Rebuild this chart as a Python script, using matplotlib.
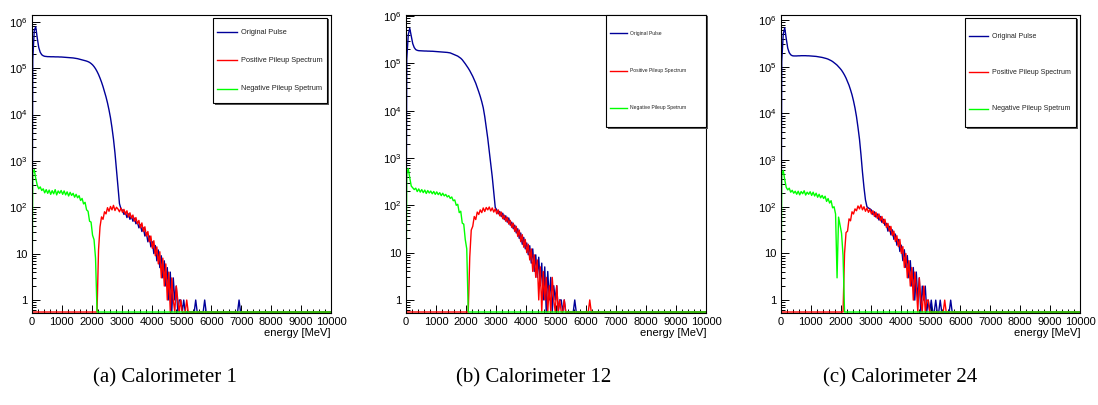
import numpy as np
import matplotlib.pyplot as plt
from matplotlib.patches import Rectangle
from matplotlib.lines import Line2D
from matplotlib.ticker import MultipleLocator, LogLocator, NullFormatter

plt.rcParams['font.family'] = ['Liberation Sans', 'DejaVu Sans']
plt.rcParams['mathtext.fontset'] = 'custom'
plt.rcParams['mathtext.rm'] = 'Liberation Sans'
plt.rcParams['mathtext.it'] = 'Liberation Sans:italic'

# histogram binning: 50 MeV bins from 0 to 10000 MeV; values listed up to ~7000 MeV
edges = np.arange(0, 10001, 50)
centers = 0.5 * (edges[:-1] + edges[1:])

series_labels = ['Original Pulse', 'Positive Pileup Spectrum', 'Negative Pileup Spetrum']
captions = ['(a) Calorimeter 1', '(b) Calorimeter 12', '(c) Calorimeter 24']

# ---- Calorimeter 1 ----
orig_a = [
    1.5e5, 6.5e5, 7.8e5, 4.5e5, 2.8e5, 2.2e5, 1.95e5, 1.85e5, 1.8e5, 1.78e5,
    1.77e5, 1.77e5, 1.76e5, 1.76e5, 1.76e5, 1.75e5, 1.75e5, 1.75e5, 1.74e5, 1.74e5,
    1.73e5, 1.72e5, 1.71e5, 1.70e5, 1.69e5, 1.68e5, 1.67e5, 1.66e5, 1.64e5, 1.62e5,
    1.60e5, 1.57e5, 1.54e5, 1.51e5, 1.48e5, 1.45e5, 1.42e5, 1.38e5, 1.33e5, 1.26e5,
    1.18e5, 1.08e5, 9.7e4, 8.5e4, 7.3e4, 6.1e4, 5.0e4, 4.0e4, 3.1e4, 2.4e4,
    1.78e4, 1.26e4, 8.5e3, 5.2e3, 2.95e3, 1.48e3, 660, 280, 120, 93,
    86, 70, 78, 60, 72, 55, 64, 50, 58, 44,
    48, 36, 42, 30, 36, 24, 28, 18, 24, 14,
    18, 10, 15, 7, 12, 5, 9, 3, 7, 2,
    5, 1, 4, 0, 3, 1, 2, 0, 1, 1,
    0, 1, 0, 0, 0, 0, 0, 0, 0, 1,
    0, 0, 0, 0, 0, 1, 0, 0, 0, 0,
    0, 0, 0, 0, 0, 0, 0, 0, 0, 0,
    0, 0, 0, 0, 0, 0, 0, 0, 1, 0,
]
pos_a = [0] * 40 + [
    0, 0, 0, 0, 12, 38, 62, 55, 80, 72,
    98, 82, 104, 88, 110, 85, 100, 92, 80, 96,
    78, 90, 70, 84, 62, 76, 58, 68, 50, 60,
    44, 52, 36, 46, 30, 38, 24, 30, 18, 24,
    13, 19, 9, 14, 6, 11, 3, 8, 2, 6,
    1, 4, 0, 3, 1, 0, 2, 1, 0, 1,
    0, 0, 0, 1, 0, 0, 0, 0, 0, 0,
]
neg_a = [
    550, 650, 420, 300, 250, 275, 230, 250, 205, 240,
    200, 235, 190, 228, 195, 240, 185, 225, 200, 230,
    190, 225, 185, 215, 175, 210, 180, 200, 165, 190,
    160, 178, 140, 155, 118, 128, 88, 82, 50, 48,
    25, 20, 8,
]

# ---- Calorimeter 12 ----
orig_b = [
    1.2e5, 4.0e5, 5.5e5, 3.8e5, 2.6e5, 2.15e5, 1.95e5, 1.88e5, 1.85e5, 1.84e5,
    1.83e5, 1.83e5, 1.82e5, 1.82e5, 1.81e5, 1.81e5, 1.80e5, 1.80e5, 1.79e5, 1.78e5,
    1.77e5, 1.76e5, 1.75e5, 1.74e5, 1.73e5, 1.72e5, 1.71e5, 1.70e5, 1.68e5, 1.66e5,
    1.61e5, 1.57e5, 1.52e5, 1.47e5, 1.42e5, 1.35e5, 1.28e5, 1.19e5, 1.08e5, 9.8e4,
    8.8e4, 7.9e4, 7.0e4, 6.1e4, 5.3e4, 4.5e4, 3.8e4, 3.1e4, 2.5e4, 2.0e4,
    1.55e4, 1.15e4, 7.5e3, 4.5e3, 2.6e3, 1.4e3, 750, 400, 190, 90,
    80, 66, 74, 58, 68, 50, 60, 44, 54, 38,
    44, 32, 38, 26, 32, 20, 26, 15, 21, 12,
    16, 9, 14, 6, 12, 4, 9, 3, 8, 2,
    6, 1, 5, 0, 4, 1, 3, 0, 2, 1,
    2, 0, 1, 1, 0, 1, 0, 0, 0, 0,
    0, 0, 1, 0, 0, 0, 0, 0, 0, 0,
]
pos_b = [0] * 40 + [
    0, 0, 8, 30, 36, 58, 50, 72, 64, 80,
    70, 88, 74, 90, 80, 92, 76, 88, 72, 84,
    66, 80, 60, 72, 52, 62, 46, 56, 40, 48,
    34, 42, 28, 36, 22, 30, 17, 24, 13, 19,
    10, 15, 7, 12, 4, 9, 3, 7, 1, 5,
    0, 4, 1, 3, 0, 2, 0, 3, 1, 0,
    2, 0, 1, 0, 0, 1, 0, 0, 0, 0,
    0, 0, 0, 0, 0, 0, 0, 0, 0, 0,
    0, 0, 1, 0, 0, 0, 0, 0, 0, 0,
]
neg_b = [
    450, 600, 380, 255, 235, 215, 230, 195, 222, 190,
    215, 185, 210, 178, 205, 182, 200, 175, 196, 170,
    192, 168, 185, 160, 180, 158, 170, 150, 160, 140,
    150, 125, 130, 100, 105, 70, 75, 42, 40, 19,
    12,
]

# ---- Calorimeter 24 ----
orig_c = [
    1.3e5, 5.0e5, 6.8e5, 4.0e5, 2.5e5, 2.0e5, 1.8e5, 1.72e5, 1.70e5, 1.70e5,
    1.70e5, 1.71e5, 1.71e5, 1.72e5, 1.72e5, 1.72e5, 1.72e5, 1.71e5, 1.71e5, 1.70e5,
    1.69e5, 1.68e5, 1.67e5, 1.66e5, 1.64e5, 1.62e5, 1.60e5, 1.58e5, 1.55e5, 1.52e5,
    1.49e5, 1.45e5, 1.40e5, 1.35e5, 1.29e5, 1.22e5, 1.15e5, 1.08e5, 1.0e5, 9.2e4,
    8.4e4, 7.5e4, 6.6e4, 5.7e4, 4.8e4, 4.0e4, 3.2e4, 2.5e4, 1.85e4, 1.3e4,
    8.5e3, 5.0e3, 2.8e3, 1.3e3, 550, 260, 140, 100, 94, 90,
    85, 68, 78, 60, 70, 52, 62, 46, 54, 40,
    44, 30, 38, 25, 32, 20, 26, 15, 20, 11,
    15, 7, 12, 5, 9, 3, 7, 2, 5, 1,
    4, 1, 3, 0, 2, 1, 2, 0, 1, 0,
    1, 0, 0, 1, 0, 0, 1, 0, 0, 0,
    0, 0, 0, 1, 0, 0, 0, 0, 0, 0,
]
pos_c = [0] * 40 + [
    0, 0, 10, 28, 30, 55, 50, 78, 70, 90,
    82, 104, 90, 110, 86, 100, 80, 94, 76, 88,
    70, 82, 62, 76, 56, 70, 50, 62, 44, 54,
    36, 44, 30, 38, 24, 30, 18, 24, 14, 20,
    10, 14, 5, 10, 3, 7, 2, 5, 1, 4,
    2, 0, 3, 1, 0, 2, 0, 1, 1, 0,
    0, 0, 0, 0, 0, 0, 0, 0, 0, 1,
]
neg_c = [
    480, 600, 380, 260, 230, 250, 205, 225, 195, 215,
    185, 215, 180, 212, 190, 220, 178, 205, 185, 210,
    175, 205, 170, 195, 160, 185, 155, 175, 150, 168,
    130, 150, 120, 135, 95, 100, 70, 3, 60, 40,
    27, 9,
]

BLUE = '#000099'
RED = '#ff0000'
GREEN = '#00ff00'

W, H = 1098, 405
fig = plt.figure(figsize=(W / 100, H / 100), dpi=100)


def fx(x):
    return x / W


def fy(y):
    return 1 - y / H


def full(vals):
    return np.array(list(vals) + [0] * (len(centers) - len(vals)), dtype=float)


def draw_panel(px_box, orig, pos, neg, ylim, leg_box, leg_rows, leg_line, leg_fs):
    x0, y0, x1, y1 = px_box
    ax = fig.add_axes([fx(x0), fy(y1), (x1 - x0) / W, (y1 - y0) / H])
    floor = ylim[0] * 1.05
    for vals, col in ((orig, BLUE), (pos, RED), (neg, GREEN)):
        y = full(vals)
        y = np.where(y > 0, y, floor)
        # empty bins sit on the bottom of the frame, like ROOT draws them
        ax.plot(np.r_[edges[0], centers, edges[-1]], np.r_[floor, y, floor],
                color=col, lw=1.0)
    ax.set_yscale('log')
    ax.set_xlim(0, 10000)
    ax.set_ylim(*ylim)

    ax.xaxis.set_major_locator(MultipleLocator(1000))
    ax.xaxis.set_minor_locator(MultipleLocator(200))
    yt = [1, 10, 1e2, 1e3, 1e4, 1e5, 1e6]
    ax.set_yticks(yt)
    ax.set_yticklabels(['1', '10', '$10^{2}$', '$10^{3}$', '$10^{4}$', '$10^{5}$', '$10^{6}$'])
    ax.yaxis.set_minor_locator(LogLocator(base=10, subs=np.arange(2, 10) * 1.0, numticks=30))
    ax.yaxis.set_minor_formatter(NullFormatter())
    ax.tick_params(which='both', direction='in', top=False, right=False, width=0.7,
                   labelsize=8, pad=3, colors='black')
    ax.tick_params(which='major', length=5.8)
    ax.tick_params(which='minor', length=2.8)
    for s in ax.spines.values():
        s.set_linewidth(0.8)
    ax.text(1.0, -0.067, 'energy [MeV]', transform=ax.transAxes, ha='right', va='center',
            fontsize=8)

    # ROOT style legend box with a small shadow
    lx0, ly0, lx1, ly1 = leg_box
    fig.add_artist(Rectangle((fx(lx0 + 1.5), fy(ly1 + 1.5)), (lx1 - lx0) / W, (ly1 - ly0) / H,
                             transform=fig.transFigure, fc='#555555', ec='none'))
    fig.add_artist(Rectangle((fx(lx0), fy(ly1)), (lx1 - lx0) / W, (ly1 - ly0) / H,
                             transform=fig.transFigure, fc='white', ec='black', lw=0.8))
    lin0, lin1, tx = leg_line
    for yy, lab, col in zip(leg_rows, series_labels, (BLUE, RED, GREEN)):
        fig.add_artist(Line2D([fx(lin0), fx(lin1)], [fy(yy), fy(yy)],
                              transform=fig.transFigure, color=col, lw=1.0))
        fig.text(fx(tx), fy(yy), lab, fontsize=leg_fs, ha='left', va='center', color='#222222')
    return ax


draw_panel((32, 15, 331, 313), orig_a, pos_a, neg_a, (0.525, 1.4e6),
           (213, 18, 327, 103), (32, 60, 89), (217, 237, 241), 5.3)
draw_panel((406, 15, 706, 313), orig_b, pos_b, neg_b, (0.53, 1.05e6),
           (606, 15, 706, 127), (33, 70.5, 108), (610, 627, 630), 3.6)
draw_panel((781, 15, 1080, 313), orig_c, pos_c, neg_c, (0.53, 1.28e6),
           (965, 18, 1076, 127), (36, 72, 109), (969, 988, 992), 5.0)

for cx, cap in zip((165, 534, 900), captions):
    fig.text(fx(cx), fy(378), cap, ha='center', va='center', fontsize=15,
             family=['Liberation Serif', 'DejaVu Serif'])

fig.savefig('out.png', dpi=100)
